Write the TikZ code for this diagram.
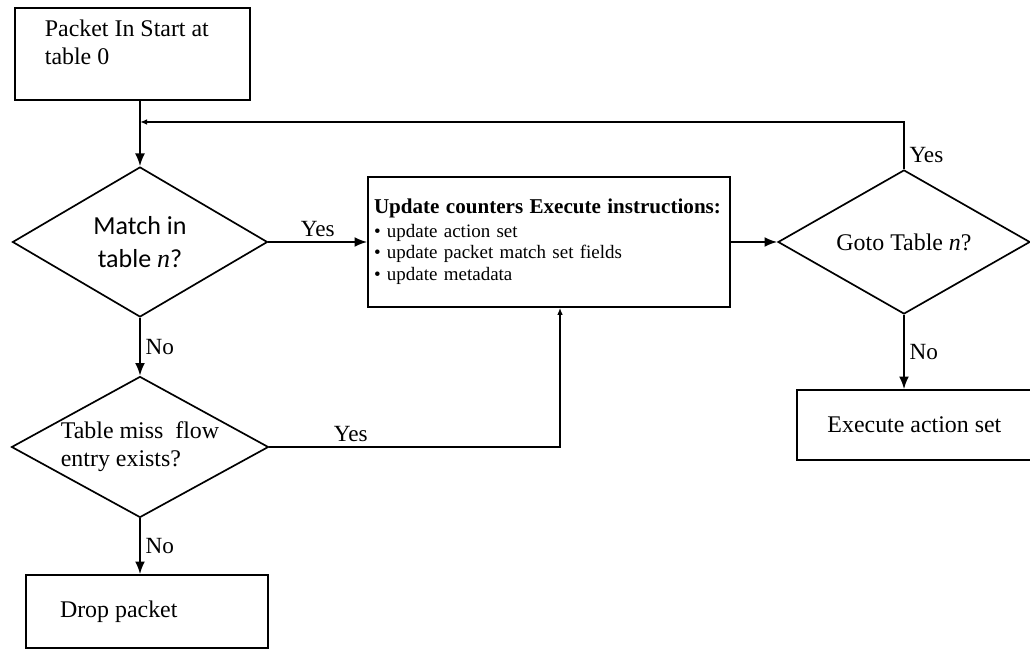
\documentclass[tikz,border=0pt]{standalone}
\usepackage{fontspec}
\setmainfont{Liberation Serif}
\newfontfamily\calibrifont{Carlito}
\usetikzlibrary{shapes.geometric}
\usetikzlibrary{arrows.meta}

\begin{document}
\begin{tikzpicture}[line width=1.2pt, >={Latex[length=9pt, width=7pt]},
        box/.style={draw, rectangle, inner sep=0pt},
        decision/.style={draw, diamond, aspect=1.8, inner sep=0pt, align=center},
        txt/.style={font=\fontsize{17}{20}\selectfont},
        lbl/.style={font=\fontsize{16.5}{19}\selectfont},
        smalltip/.style={-{Latex[length=5pt, width=4pt]}}]
                \useasboundingbox (0, 0) rectangle (25.75, 16.25);

                % Start box
                \node[box, minimum width=5.875cm, minimum height=2.3cm] (start) at (3.31, 14.9) {};
                \node[txt, inner sep=0pt, align=left, anchor=north west] (starttext) at ([xshift=0.75cm, yshift=-0.3cm]start.north west) {Packet In Start at\\table 0};

                % Decisions
                \node[decision, minimum width=6.375cm, minimum height=3.75cm, font=\calibrifont\fontsize{18.5}{24}\selectfont] (match) at (3.5, 10.2) {Match in\\table {\rmfamily\itshape n}?};
                \node[decision, txt, align=left, minimum width=6.425cm, minimum height=3.525cm] (miss) at (3.5, 5.075) {Table miss\ \ flow\\entry exists?};
                \node[decision, txt, minimum width=6.3cm, minimum height=3.6cm] (goto) at (22.6, 10.2) {Goto Table \textit{n}?};

                % Actions
                \node[box, minimum width=9.05cm, minimum height=3.25cm, text width=8.75cm, align=left, font=\fontsize{13.5}{15.5}\selectfont] (update) at (13.725, 10.2) {%
                    {\fontsize{15}{17}\selectfont\bfseries Update counters Execute instructions:}\\[1pt]
                    \textbullet\ update action set\\
                    \textbullet\ update packet match set fields\\
                    \textbullet\ update metadata};
                \node[box, txt, minimum width=5.875cm, minimum height=1.75cm] (exec) at (22.86, 5.625) {Execute action set};
                \node[box, txt, minimum width=6.05cm, minimum height=1.825cm] (drop) at (3.675, 0.9625) {\makebox[4.35cm][l]{Drop packet}};

                % Loop back to the next table
                \coordinate (back) at (3.5, 13.2);

                % Connectors
                \draw[->] (start.south -| match.north) -- (match.north);
                \draw[->] (match.east) -- (update.west) node[midway, above, lbl] {Yes};
                \draw[->] (update.east) -- (goto.west);
                \draw[smalltip] (goto.north) |- (back) node[pos=0.15, right, lbl] {Yes};
                \draw[->] (goto.south) -- (goto.south |- exec.north) node[midway, right, lbl] {No};
                \draw[->] (match.south) -- (miss.north) node[midway, right, lbl] {No};
                \draw[->] (miss.south) -- (miss.south |- drop.north) node[midway, right, lbl] {No};
                \draw[smalltip] (miss.east) -| ([xshift=0.275cm]update.south) node[pos=0.14, above, lbl] {Yes};
\end{tikzpicture}
\end{document}
